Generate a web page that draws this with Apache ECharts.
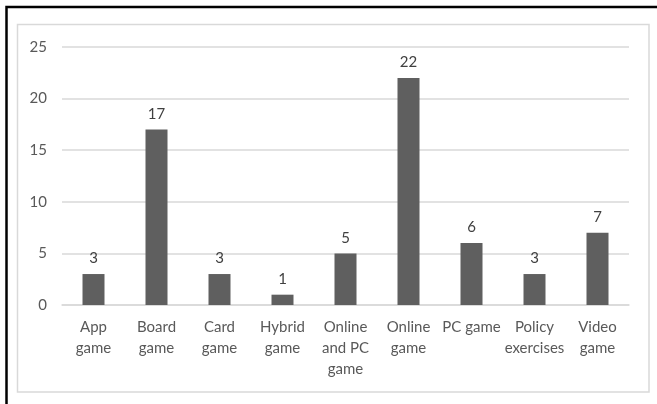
<!DOCTYPE html>
<html>
<head>
<meta charset="utf-8">
<script src="https://cdn.jsdelivr.net/npm/echarts@6/dist/echarts.min.js"></script>
<style>
html,body{margin:0;padding:0;background:#fff;}
#c{width:657px;height:404px;}
</style>
</head>
<body>
<div id="c"></div>
<script>
const categories = ["App game","Board game","Card game","Hybrid game","Online and PC game","Online game","PC game","Policy exercises","Video game"];
const tickLabels = ["App\ngame","Board\ngame","Card\ngame","Hybrid\ngame","Online\nand PC\ngame","Online\ngame","PC game","Policy\nexercises","Video\ngame"];
const counts = [3,17,3,1,5,22,6,3,7];
const yTicks = {min:0, max:25, interval:5};

const chart = echarts.init(document.getElementById('c'), null, {renderer:'canvas'});
const font = 'Lato, "Open Sans", sans-serif';
chart.setOption({
  animation:false,
  backgroundColor:'#fff',
  graphic:[
    {type:'rect', shape:{x:6.5, y:7, width:680, height:420}, style:{fill:'none', stroke:'#000', lineWidth:2.5}, silent:true, z:10},
    {type:'rect', shape:{x:17.5, y:24.5, width:631.5, height:367.5}, style:{fill:'none', stroke:'#d9d9d9', lineWidth:1.5}, silent:true, z:10}
  ],
  grid:{left:62, right:28, top:47, bottom:99, containLabel:false},
  xAxis:{
    type:'category',
    data:categories,
    axisLine:{show:true, lineStyle:{color:'#d9d9d9', width:1.5}},
    axisTick:{show:false},
    axisLabel:{
      interval:0, margin:12, color:'#595959', fontFamily:font, fontSize:15, lineHeight:21,
      formatter:(v, i)=>tickLabels[i]
    }
  },
  yAxis:{
    type:'value', min:yTicks.min, max:yTicks.max, interval:yTicks.interval,
    axisLine:{show:false}, axisTick:{show:false},
    splitLine:{lineStyle:{color:'#d9d9d9', width:1.5}},
    axisLabel:{color:'#595959', fontFamily:font, fontSize:15, margin:15}
  },
  series:[{
    type:'bar',
    data:counts,
    barWidth:22,
    itemStyle:{color:'#5f5f5f'},
    label:{show:true, position:'top', distance:8, color:'#404040', fontFamily:font, fontSize:15}
  }]
});
</script>
</body>
</html>
